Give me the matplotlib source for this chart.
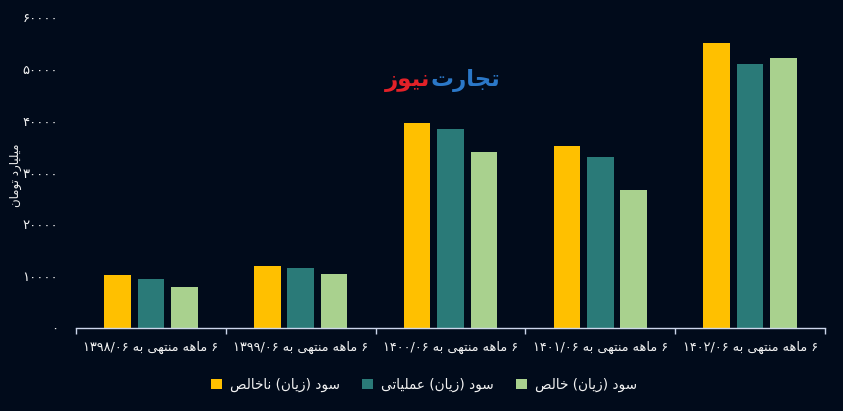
#!/usr/bin/env python3
"""
Grouped bar chart: half-year profit figures (billion toman), dark theme
"""

import numpy as np
import matplotlib
matplotlib.use('Agg')
import matplotlib.pyplot as plt
from matplotlib.patches import Patch

# ---- data (billion toman) ----
periods = ['۶ ماهه منتهی به ۱۳۹۸/۰۶', '۶ ماهه منتهی به ۱۳۹۹/۰۶', '۶ ماهه منتهی به ۱۴۰۰/۰۶',
           '۶ ماهه منتهی به ۱۴۰۱/۰۶', '۶ ماهه منتهی به ۱۴۰۲/۰۶']
gross_profit = [10200, 12000, 39600, 35100, 55000]
operating_profit = [9450, 11600, 38400, 33000, 50900]
net_profit = [7900, 10400, 34000, 26600, 52100]
series_names = ['سود (زیان) ناخالص', 'سود (زیان) عملیاتی', 'سود (زیان) خالص']
y_ticks = [0, 10000, 20000, 30000, 40000, 50000, 60000]
y_title = 'میلیارد تومان'

BG = '#010b1b'
COLORS = ['#ffc000', '#2a7a78', '#a9d18e']
TEXT = '#f2f2f2'

# ---- minimal arabic/persian shaping (matplotlib has no bidi/shaping) ----
# forms: isolated, final, initial, medial  (2 forms -> right-joining only)
FORMS = {
    'ا': (0xFE8D, 0xFE8E), 'آ': (0xFE81, 0xFE82), 'د': (0xFEA9, 0xFEAA),
    'ذ': (0xFEAB, 0xFEAC), 'ر': (0xFEAD, 0xFEAE), 'ز': (0xFEAF, 0xFEB0),
    'ژ': (0xFB8A, 0xFB8B), 'و': (0xFEED, 0xFEEE),
    'ب': (0xFE8F, 0xFE90, 0xFE91, 0xFE92), 'پ': (0xFB56, 0xFB57, 0xFB58, 0xFB59),
    'ت': (0xFE95, 0xFE96, 0xFE97, 0xFE98), 'ث': (0xFE99, 0xFE9A, 0xFE9B, 0xFE9C),
    'ج': (0xFE9D, 0xFE9E, 0xFE9F, 0xFEA0), 'چ': (0xFB7A, 0xFB7B, 0xFB7C, 0xFB7D),
    'ح': (0xFEA1, 0xFEA2, 0xFEA3, 0xFEA4), 'خ': (0xFEA5, 0xFEA6, 0xFEA7, 0xFEA8),
    'س': (0xFEB1, 0xFEB2, 0xFEB3, 0xFEB4), 'ش': (0xFEB5, 0xFEB6, 0xFEB7, 0xFEB8),
    'ص': (0xFEB9, 0xFEBA, 0xFEBB, 0xFEBC), 'ض': (0xFEBD, 0xFEBE, 0xFEBF, 0xFEC0),
    'ط': (0xFEC1, 0xFEC2, 0xFEC3, 0xFEC4), 'ظ': (0xFEC5, 0xFEC6, 0xFEC7, 0xFEC8),
    'ع': (0xFEC9, 0xFECA, 0xFECB, 0xFECC), 'غ': (0xFECD, 0xFECE, 0xFECF, 0xFED0),
    'ف': (0xFED1, 0xFED2, 0xFED3, 0xFED4), 'ق': (0xFED5, 0xFED6, 0xFED7, 0xFED8),
    'ک': (0xFB8E, 0xFB8F, 0xFB90, 0xFB91), 'گ': (0xFB92, 0xFB93, 0xFB94, 0xFB95),
    'ل': (0xFEDD, 0xFEDE, 0xFEDF, 0xFEE0), 'م': (0xFEE1, 0xFEE2, 0xFEE3, 0xFEE4),
    'ن': (0xFEE5, 0xFEE6, 0xFEE7, 0xFEE8), 'ه': (0xFEE9, 0xFEEA, 0xFEEB, 0xFEEC),
    'ی': (0xFBFC, 0xFBFD, 0xFBFE, 0xFBFF),
}
MIRROR = {'(': ')', ')': '('}
DIGITS = set('۰۱۲۳۴۵۶۷۸۹0123456789')


def shape(word):
    out = []
    for i, ch in enumerate(word):
        f = FORMS.get(ch)
        if f is None:
            out.append(ch)
            continue
        prev = word[i - 1] if i > 0 else ''
        nxt = word[i + 1] if i < len(word) - 1 else ''
        join_prev = prev in FORMS and len(FORMS[prev]) == 4
        join_next = len(f) == 4 and nxt in FORMS
        if join_prev and join_next:
            out.append(chr(f[3]))
        elif join_prev:
            out.append(chr(f[1]))
        elif join_next:
            out.append(chr(f[2]))
        else:
            out.append(chr(f[0]))
    return ''.join(out)


def fa(text):
    """logical persian string -> visual (shaped, right to left) string"""
    shaped = shape(text)
    runs, cur, cur_num = [], '', None
    for ch in shaped:
        is_num = ch in DIGITS or (ch == '/' and cur_num)
        if cur_num is None or is_num == cur_num:
            cur += ch
        else:
            runs.append((cur, cur_num))
            cur = ch
        cur_num = is_num
    runs.append((cur, cur_num))
    vis = []
    for run, is_num in reversed(runs):
        if is_num:
            vis.append(run)
        else:
            vis.append(''.join(MIRROR.get(c, c) for c in reversed(run)))
    return ''.join(vis)


def generate_chart():
    plt.rcParams['font.family'] = ['DejaVu Sans']

    fig = plt.figure(figsize=(8.43, 4.11), dpi=100, facecolor=BG)
    ax = fig.add_axes([76 / 843, 1 - 328 / 411, 749 / 843, 311 / 411])
    ax.set_facecolor(BG)

    x = np.arange(len(periods))
    width = 0.177
    step = 0.223
    for k, (vals, c) in enumerate(zip([gross_profit, operating_profit, net_profit], COLORS)):
        ax.bar(x + (k - 1) * step, vals, width, color=c, zorder=2)

    ax.set_xlim(-0.5, len(periods) - 0.5)
    ax.set_ylim(0, 60000)

    # category boundaries carry the tick marks, labels sit in the middle
    ax.set_xticks(np.arange(-0.5, len(periods)), labels=[''] * (len(periods) + 1))
    ax.set_xticks(x, labels=[fa(p) for p in periods], minor=True)
    ax.tick_params(axis='x', which='major', length=4, color='#ccd6eb', width=1)
    ax.tick_params(axis='x', which='minor', length=0, pad=9.5, labelsize=9.3, labelcolor=TEXT)

    fa_digits = str.maketrans('0123456789', '۰۱۲۳۴۵۶۷۸۹')
    ax.set_yticks(y_ticks, labels=[str(v).translate(fa_digits) for v in y_ticks])
    ax.tick_params(axis='y', length=0, pad=13, labelsize=9.5, labelcolor=TEXT)

    for s in ['top', 'right', 'left']:
        ax.spines[s].set_visible(False)
    ax.spines['bottom'].set_color('#ccd6eb')
    ax.spines['bottom'].set_linewidth(1)

    fig.text(15 / 843, 1 - 175 / 411, fa(y_title), rotation=90, color=TEXT,
             fontsize=8.5, ha='center', va='center')

    # logo
    fig.text(431 / 843, 1 - 81 / 411, fa('تجارت'), color='#2b78c8', fontsize=16.5,
             fontweight='bold', ha='left', va='center')
    fig.text(430 / 843, 1 - 81 / 411, fa('نیوز'), color='#e32128', fontsize=16.5,
             fontweight='bold', ha='right', va='center')

    handles = [Patch(facecolor=c, edgecolor='none') for c in COLORS]
    fig.legend(handles, [fa(n) for n in series_names], loc='center',
               bbox_to_anchor=(424 / 843, 1 - 385 / 411), ncol=3, frameon=False,
               handlelength=0.8, handleheight=0.8, handletextpad=0.6,
               columnspacing=1.6, fontsize=9.8, labelcolor=TEXT)

    fig.savefig('out.png', dpi=100, facecolor=BG)
    plt.close(fig)


if __name__ == "__main__":
    generate_chart()
